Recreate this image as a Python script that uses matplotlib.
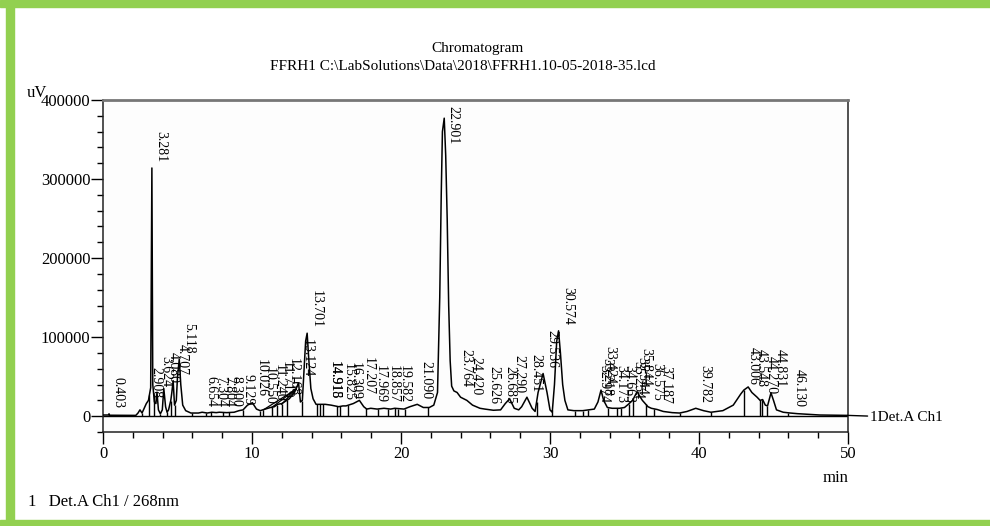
import numpy as np
import matplotlib
matplotlib.use("Agg")
import matplotlib.pyplot as plt
from matplotlib.patches import Rectangle
from matplotlib.ticker import MultipleLocator

plt.rcParams['font.family'] = ['Liberation Serif', 'DejaVu Serif']

# detector trace (min, uV)
trace_t = [0.0, 0.38, 0.403, 0.45, 2.20, 2.35, 2.48, 2.62, 2.908, 3.05, 3.20, 3.281,
           3.34, 3.45, 3.55, 3.624, 3.72, 3.85, 3.98, 4.080, 4.20, 4.30, 4.40, 4.55,
           4.62, 4.707, 4.80, 4.92, 5.00, 5.118, 5.22, 5.35, 5.55, 5.9, 6.4, 6.654,
           7.0, 7.304, 7.6, 7.804, 8.300, 8.8, 9.129, 9.4, 9.7, 10.026, 10.3, 10.550,
           10.9, 11.240, 11.5, 11.719, 12.0, 12.168, 12.5, 12.85, 13.124, 13.25, 13.38,
           13.50, 13.60, 13.701, 13.80, 13.95, 14.10, 14.30, 14.915, 15.3, 15.825,
           16.1, 16.309, 16.8, 17.207, 17.5, 17.7, 17.969, 18.4, 18.857, 19.3, 19.582,
           20.2, 20.6, 21.090, 21.5, 21.9, 22.2, 22.45, 22.60, 22.70, 22.78, 22.901,
           23.00, 23.10, 23.20, 23.30, 23.40, 23.55, 23.764, 24.0, 24.420, 24.8, 25.3,
           25.626, 26.2, 26.685, 27.0, 27.290, 27.6, 27.9, 28.1, 28.451, 28.8, 29.0,
           29.2, 29.536, 29.8, 30.0, 30.15, 30.3, 30.45, 30.574, 30.70, 30.85, 31.0,
           31.2, 31.6, 32.2, 32.974, 33.218, 33.424, 33.6, 33.85, 34.173, 34.663, 35.0,
           35.254, 35.544, 35.844, 36.0, 36.2, 36.575, 36.8, 37.187, 37.6, 38.2, 38.7,
           39.2, 39.782, 40.3, 40.8, 41.6, 42.3, 42.8, 43.006, 43.3, 43.548, 43.9,
           44.10, 44.270, 44.45, 44.6, 44.831, 45.0, 45.2, 45.65, 46.130, 46.6, 48.1,
           50.0]
trace_v = [1500, 1500, 3000, 1200, 1000, 4000, 8000, 4000, 16000, 20000, 36000, 314000,
           40000, 18000, 16000, 30000, 8000, 3000, 8000, 35000, 12000, 5000, 8000, 20000,
           30000, 45000, 14000, 20000, 50000, 72000, 40000, 14000, 7000, 4000, 4000, 5000,
           4000, 5000, 4500, 5000, 4500, 5000, 7000, 8000, 14000, 17000, 9000, 7000,
           9000, 11000, 12000, 15000, 16000, 18000, 22000, 30000, 42000, 18000, 20000,
           60000, 95000, 105000, 75000, 35000, 22000, 15000, 15000, 14000, 12000,
           13000, 13000, 16000, 20000, 12000, 9000, 10000, 9000, 10000, 9000, 10000,
           9000, 12000, 15000, 11000, 11000, 14000, 30000, 150000, 280000, 360000, 377000,
           330000, 250000, 140000, 70000, 38000, 32000, 30000, 24000, 20000, 14000, 10000,
           9000, 7500, 8000, 16000, 22000, 10000, 8000, 12000, 24000, 10000, 6000,
           30000, 54000, 30000, 8000, 5000, 40000, 95000, 108000, 80000, 40000, 20000,
           8000, 7000, 7000, 9000, 18000, 33000, 20000, 11000, 10000, 10000, 11000,
           15000, 20000, 31000, 26000, 20000, 12000, 10000, 8500, 6000, 4500, 4000,
           6000, 10000, 7000, 5000, 7000, 14000, 28000, 33000, 37000, 30000, 24000,
           20000, 21000, 14000, 13000, 29500, 20000, 8000, 5000, 4000, 3200, 1500,
           1000]

# peak retention times printed on the chart
peak_times = [0.403, 2.908, 3.281, 3.624, 4.080, 4.707, 5.118, 6.654, 7.304, 7.804,
              8.300, 9.129, 10.026, 10.550, 11.240, 11.719, 12.168, 13.124, 13.701,
              14.915, 14.918, 15.825, 16.309, 17.207, 17.969, 18.857, 19.582, 21.090,
              22.901, 23.764, 24.420, 25.626, 26.685, 27.290, 28.451, 29.536, 30.574,
              32.974, 33.218, 33.424, 34.173, 34.663, 35.254, 35.544, 35.844, 36.575,
              37.187, 39.782, 43.006, 43.548, 44.270, 44.831, 46.130]

# integration marks (min)
drop_times = [2.62, 3.11, 3.40, 3.85, 4.30, 4.54, 4.80, 5.95, 6.91, 7.23, 8.07, 8.47,
              9.42, 10.54, 10.76, 11.32, 11.66, 11.99, 12.33, 13.33, 14.34, 14.56, 14.79,
              15.68, 15.90, 16.46, 17.65, 18.48, 19.15, 19.60, 19.82, 20.27, 21.83, 29.10,
              30.16, 31.68, 32.23, 32.57, 33.90, 34.48, 34.75, 35.30, 35.58, 36.43, 37.00,
              38.72, 40.82, 43.02, 44.10, 44.25, 44.58, 46.00]

# skimmed baselines under the 10-13 min cluster
skim_start_t = [10.76, 11.32, 11.99]
skim_start_v = [8000, 11000, 15000]
skim_end_t = [12.95, 12.95, 12.95]
skim_end_v = [34000, 34000, 34000]

fig = plt.figure(figsize=(9.9, 5.26), dpi=100)
fig.patch.set_facecolor('white')

green = '#92D050'
fig.patches.append(Rectangle((0, 1 - 7 / 526), 1, 7 / 526, transform=fig.transFigure,
                             color=green, zorder=0))
fig.patches.append(Rectangle((6 / 990, 0), 8 / 990, 1, transform=fig.transFigure,
                             color=green, zorder=0))
fig.patches.append(Rectangle((0, 0), 1, 6 / 526, transform=fig.transFigure,
                             color=green, zorder=0))

ax = fig.add_axes([103 / 990, (526 - 432) / 526, (848 - 103) / 990, (432 - 100) / 526])
ax.set_facecolor('#fdfdfd')

ax.plot(trace_t, trace_v, color='black', lw=1.1, zorder=3)
ax.plot([0, 50], [0, 0], color='black', lw=1.0, zorder=2)

drop_h = np.interp(drop_times, trace_t, trace_v)
ax.vlines(drop_times, 0, drop_h, color='black', lw=1.0, zorder=2)
for x0, y0, x1, y1 in zip(skim_start_t, skim_start_v, skim_end_t, skim_end_v):
    ax.plot([x0, x1], [y0, y1], color='black', lw=0.9, zorder=2)

peak_h = np.interp(peak_times, trace_t, trace_v)
for t, h in zip(peak_times, peak_h):
    lab = f"{t:.3f}"
    if h > 340000:
        ax.annotate(lab, xy=(t, 392000), xytext=(4, 0), textcoords='offset points',
                    rotation=-90, rotation_mode='anchor', ha='left', va='baseline',
                    fontsize=10, zorder=4)
    else:
        ax.annotate(lab, xy=(t, h), xytext=(4, 4), textcoords='offset points',
                    rotation=-90, rotation_mode='anchor', ha='right', va='baseline',
                    fontsize=10, zorder=4)

ax.set_xlim(0, 50)
ax.set_ylim(-20000, 400000)
ax.xaxis.set_major_locator(MultipleLocator(10))
ax.xaxis.set_minor_locator(MultipleLocator(2))
ax.yaxis.set_major_locator(MultipleLocator(100000))
ax.yaxis.set_minor_locator(MultipleLocator(20000))
ax.tick_params(which='major', direction='out', length=8.5, width=1.0, labelsize=12, pad=1.5)
ax.tick_params(which='minor', direction='out', length=4.3, width=1.0)
ax.tick_params(axis='y', which='major', pad=0.5)
for side in ['left', 'bottom', 'right']:
    ax.spines[side].set_color('#222222')
    ax.spines[side].set_linewidth(1.1)
ax.spines['top'].set_color('#777777')
ax.spines['top'].set_linewidth(2.0)

# channel tag at the trace end
ax.annotate('1Det.A Ch1', xy=(50, 1000), xytext=(51.5, -1500), fontsize=11,
            va='center', ha='left', annotation_clip=False,
            arrowprops=dict(arrowstyle='-', color='black', lw=1.0, shrinkA=0, shrinkB=0))

fig.text(478 / 990, 1 - 52 / 526, 'Chromatogram', ha='center', va='baseline', fontsize=11)
fig.text(463 / 990, 1 - 70 / 526, r'FFRH1 C:\LabSolutions\Data\2018\FFRH1.10-05-2018-35.lcd',
         ha='center', va='baseline', fontsize=11)
fig.text(27 / 990, 1 - 97 / 526, 'uV', ha='left', va='baseline', fontsize=12)
fig.text(848 / 990, 1 - 482 / 526, 'min', ha='right', va='baseline', fontsize=12)
fig.text(28 / 990, 1 - 506 / 526, '1   Det.A Ch1 / 268nm', ha='left', va='baseline', fontsize=12)

fig.savefig('out.png', dpi=100)
